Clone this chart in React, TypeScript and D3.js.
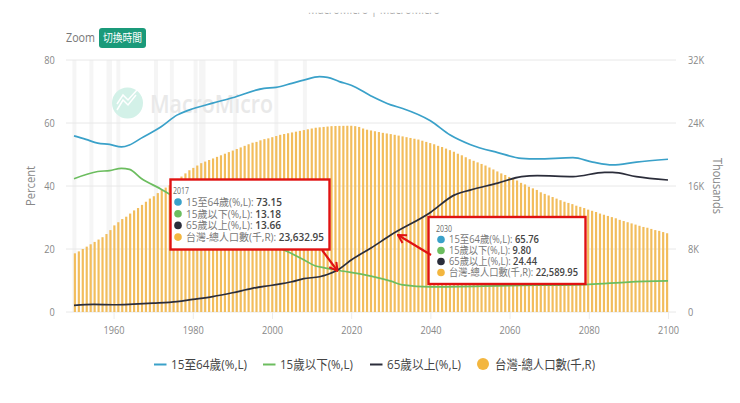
import * as d3 from 'd3'
import { useEffect, useRef } from 'react'

const width = 740
const height = 403

const FONT = '"Open Sans", "Noto Sans CJK TC", sans-serif'

const workingYears = [1950, 1953, 1956, 1959, 1962, 1964, 1967, 1972, 1976, 1979, 1985, 1990, 1998, 2001, 2005, 2008, 2012, 2014, 2017, 2020, 2025, 2030, 2033, 2040, 2045, 2050, 2057, 2063, 2067, 2076, 2081, 2086, 2092, 2100]
const workingAge = [55.9, 54.8, 53.6, 53.2, 52.4, 53.0, 55.2, 58.8, 62.5, 64.1, 66.3, 68.0, 71.0, 71.3, 72.6, 73.6, 74.7, 74.5, 73.15, 72.0, 68.6, 65.76, 64.6, 60.7, 56.2, 53.2, 50.6, 48.8, 48.6, 49.0, 47.6, 46.7, 47.6, 48.5]

const youthYears = [1950, 1956, 1959, 1962, 1964, 1967, 1972, 1976, 1980, 1985, 1990, 1995, 2000, 2004, 2008, 2011, 2013, 2017, 2025, 2030, 2033, 2040, 2060, 2080, 2090, 2100]
const youth = [42.3, 44.6, 44.9, 45.6, 45.3, 42.4, 39.0, 36.0, 32.5, 29.6, 27.0, 23.7, 21.3, 19.1, 16.6, 14.6, 14.1, 13.18, 11.4, 9.8, 8.6, 8.0, 8.4, 8.8, 9.5, 9.85]

const elderlyYears = [1950, 1955, 1960, 1965, 1970, 1976, 1980, 1985, 1990, 1995, 2000, 2005, 2008, 2012, 2014, 2017, 2020, 2025, 2030, 2040, 2046, 2050, 2057, 2063, 2067, 2076, 2084, 2086, 2092, 2100]
const elderly = [2.1, 2.4, 2.3, 2.5, 2.8, 3.3, 4.0, 4.9, 6.1, 7.5, 8.5, 9.6, 10.6, 11.2, 11.9, 13.66, 16.5, 20.3, 24.44, 31.6, 37.1, 38.7, 40.9, 43.0, 43.3, 43.0, 44.3, 44.3, 43.0, 41.9]

// Thousands of people, one value a year from 1950 to 2100
const populationStart = 1950
const population = [
  7450, 7700, 8000, 8300, 8600, 8900, 9200, 9500, 9900, 10400,
  11000, 11400, 11800, 12100, 12500, 12900, 13200, 13600, 14000, 14400,
  14700, 15100, 15500, 15800, 16100, 16500, 16900, 17200, 17600, 18000,
  18300, 18600, 18900, 19100, 19300, 19500, 19700, 19900, 20100, 20300,
  20500, 20700, 20900, 21100, 21300, 21500, 21600, 21800, 21950, 22050,
  22200, 22350, 22500, 22600, 22700, 22800, 22900, 23000, 23100, 23200,
  23300, 23400, 23450, 23500, 23550, 23600, 23620, 23633, 23640, 23650,
  23650, 23600, 23500, 23300, 23150, 23050, 22950, 22850, 22750, 22670,
  22590, 22500, 22400, 22300, 22200, 22100, 22000, 21900, 21750, 21600,
  21450, 21300, 21100, 20950, 20750, 20550, 20350, 20100, 19900, 19650,
  19400, 19200, 19000, 18800, 18600, 18350, 18100, 17850, 17600, 17400,
  17150, 16900, 16700, 16400, 16200, 15900, 15700, 15500, 15200, 15000,
  14800, 14600, 14400, 14200, 14000, 13850, 13700, 13500, 13350, 13200,
  13000, 12850, 12700, 12500, 12350, 12200, 12050, 11900, 11700, 11550,
  11400, 11250, 11100, 10950, 10800, 10700, 10550, 10400, 10300, 10150,
  10000,
]

// Recession shading, start and end year
const bandStarts = [1949.6, 1953.9, 1958.2, 1960.7, 1970.2, 1974.2, 1980.2, 1981.6, 1990.2, 2000.6, 2007.8]
const bandEnds = [1950.6, 1954.9, 1959.6, 1961.7, 1971.2, 1975.2, 1981.2, 1983.2, 1991.2, 2001.6, 2008.8]

const leftTicks = [0, 20, 40, 60, 80]
const rightTicks = [0, 8000, 16000, 24000, 32000]
const xTicks = [1960, 1980, 2000, 2020, 2040, 2060, 2080, 2100]

const seriesNames = ['15至64歲(%,L)', '15歲以下(%,L)', '65歲以上(%,L)', '台灣-總人口數(千,R)']
const seriesColors = ['#3aa1c9', '#6cbd5f', '#2b2d3a', '#f3b63f']
const tooltip2017 = ['73.15', '13.18', '13.66', '23,632.95']
const tooltip2030 = ['65.76', '9.80', '24.44', '22,589.95']

export default function App() {
  const svgRef = useRef<SVGSVGElement>(null)

  useEffect(() => {
    if (!svgRef.current) return
    d3.select(svgRef.current).selectAll('*').remove()

    const svg = d3.select(svgRef.current).style('font-family', FONT)

    const x = d3.scaleLinear().domain([1950, 2100]).range([74, 668])
    const yLeft = d3.scaleLinear().domain([0, 80]).range([312, 60])
    const yRight = d3.scaleLinear().domain([0, 32000]).range([312, 60])
    const years = population.map((_, i) => populationStart + i)
    const xBand = d3
      .scaleBand<number>()
      .domain(years)
      .range([x(1950) - 1.98, x(2100) + 1.98])
      .padding(0.45)

    const defs = svg.append('defs')
    defs
      .append('clipPath')
      .attr('id', 'top-crop')
      .append('rect')
      .attr('x', 280)
      .attr('y', 12.8)
      .attr('width', 200)
      .attr('height', 6)
    defs
      .append('marker')
      .attr('id', 'arrow')
      .attr('viewBox', '0 0 10 10')
      .attr('refX', 9)
      .attr('refY', 5)
      .attr('markerWidth', 4.5)
      .attr('markerHeight', 5)
      .attr('markerUnits', 'strokeWidth')
      .attr('orient', 'auto')
      .append('path')
      .attr('d', 'M1,0.5 L9,5 L1,9.5')
      .attr('fill', 'none')
      .attr('stroke', '#e01212')
      .attr('stroke-width', 2)

    // The whole picture is squeezed sideways, so text gets fitted to a measured width
    const fit = (
      sel: d3.Selection<SVGTextElement, unknown, null, undefined>,
      w: number
    ) => sel.attr('textLength', w).attr('lengthAdjust', 'spacingAndGlyphs')

    // Header text, cut off by the screenshot
    svg
      .append('text')
      .attr('x', 308)
      .attr('y', 14.3)
      .attr('clip-path', 'url(#top-crop)')
      .style('font-size', '12px')
      .style('fill', '#aaa')
      .text('MacroMicro | MacroMicro')
      .call(fit, 132)

    // Zoom label and button
    svg
      .append('text')
      .attr('x', 66)
      .attr('y', 42)
      .style('font-size', '12.5px')
      .style('fill', '#777')
      .text('Zoom')
      .call(fit, 29)
    svg
      .append('rect')
      .attr('x', 99)
      .attr('y', 28)
      .attr('width', 47)
      .attr('height', 20)
      .attr('rx', 3)
      .attr('fill', '#1a9a7a')
    svg
      .append('text')
      .attr('x', 103)
      .attr('y', 42)
      .style('font-size', '11.5px')
      .style('fill', '#fff')
      .text('切換時間')
      .call(fit, 39)

    // Recession bands
    svg
      .append('g')
      .selectAll('rect')
      .data(bandStarts)
      .enter()
      .append('rect')
      .attr('x', d => x(d))
      .attr('y', 60)
      .attr('width', (d, i) => x(bandEnds[i]) - x(d))
      .attr('height', 252)
      .attr('fill', '#f5f5f5')

    // Grid
    svg
      .append('g')
      .selectAll('line')
      .data(leftTicks)
      .enter()
      .append('line')
      .attr('x1', 66)
      .attr('x2', 676)
      .attr('y1', d => yLeft(d))
      .attr('y2', d => yLeft(d))
      .attr('stroke', '#e8e8e8')

    // Watermark
    const mark = svg.append('g')
    mark
      .append('circle')
      .attr('cx', 127.5)
      .attr('cy', 103)
      .attr('r', 15.5)
      .attr('fill', '#d3f1e8')
    mark
      .append('path')
      .attr('d', 'M117,110 L123,100 L128,105 L136,95 M117,104 L123,95 L128,100 L137,90')
      .attr('fill', 'none')
      .attr('stroke', '#fff')
      .attr('stroke-width', 1.5)
    mark
      .append('text')
      .attr('x', 150)
      .attr('y', 113)
      .style('font-size', '25px')
      .style('font-weight', 600)
      .style('fill', '#e9e9e9')
      .text('MacroMicro')
      .call(fit, 123)

    // Population bars
    svg
      .append('g')
      .selectAll('rect')
      .data(population)
      .enter()
      .append('rect')
      .attr('x', (_, i) => xBand(years[i])!)
      .attr('y', d => yRight(d))
      .attr('width', xBand.bandwidth())
      .attr('height', d => 312 - yRight(d))
      .attr('fill', '#f2bd5c')

    // Axes
    const styleAxis = (g: d3.Selection<SVGGElement, unknown, null, undefined>) => {
      g.select('.domain').remove()
      g.selectAll('text')
        .style('font-size', '11.5px')
        .style('fill', '#888')
        .style('font-family', FONT)
        .attr('transform', 'scale(0.8,1)')
      g.selectAll('line').attr('stroke', '#ececec')
    }

    svg
      .append('g')
      .attr('transform', 'translate(0,312)')
      .call(d3.axisBottom(x).tickValues(xTicks).tickFormat(d3.format('d')).tickSize(7).tickPadding(7))
      .call(styleAxis)
    svg
      .append('g')
      .attr('transform', 'translate(58,0)')
      .call(d3.axisLeft(yLeft).tickValues(leftTicks).tickSize(0).tickPadding(4))
      .call(styleAxis)
    svg
      .append('g')
      .attr('transform', 'translate(684,0)')
      .call(
        d3
          .axisRight(yRight)
          .tickValues(rightTicks)
          .tickFormat(d => (+d === 0 ? '0' : `${+d / 1000}K`))
          .tickSize(0)
          .tickPadding(5)
      )
      .call(styleAxis)

    svg
      .append('text')
      .attr('transform', 'translate(35,186) rotate(-90)')
      .attr('text-anchor', 'middle')
      .style('font-size', '12px')
      .style('fill', '#888')
      .text('Percent')
      .call(fit, 40)
    svg
      .append('text')
      .attr('transform', 'translate(713,186) rotate(90)')
      .attr('text-anchor', 'middle')
      .style('font-size', '12px')
      .style('fill', '#888')
      .text('Thousands')
      .call(fit, 56)

    // Lines
    const drawLine = (xs: number[], ys: number[], color: string) => {
      const line = d3
        .line<number>()
        .x((_, i) => x(xs[i]))
        .y(d => yLeft(d))
        .curve(d3.curveMonotoneX)
      svg
        .append('path')
        .attr('d', line(ys))
        .attr('fill', 'none')
        .attr('stroke', color)
        .attr('stroke-width', 1.7)
    }
    drawLine(workingYears, workingAge, seriesColors[0])
    drawLine(youthYears, youth, seriesColors[1])
    drawLine(elderlyYears, elderly, seriesColors[2])

    // Red callout boxes
    const drawCallout = (
      box: { x: number; y: number; w: number; h: number },
      year: string,
      values: string[],
      rowWidths: number[],
      dotX: number,
      yearY: number,
      rowY: number,
      rowStep: number
    ) => {
      const g = svg.append('g')
      g.append('rect')
        .attr('x', box.x)
        .attr('y', box.y)
        .attr('width', box.w)
        .attr('height', box.h)
        .attr('fill', '#fff')
        .attr('stroke', '#e01212')
        .attr('stroke-width', 2.4)
      g.append('text')
        .attr('x', dotX - 5)
        .attr('y', yearY)
        .style('font-size', '9px')
        .style('fill', '#666')
        .text(year)
        .call(fit, 16)
      values.forEach((v, i) => {
        const y = rowY + i * rowStep
        g.append('circle').attr('cx', dotX).attr('cy', y).attr('r', 3.8).attr('fill', seriesColors[i])
        const t = g
          .append('text')
          .attr('x', dotX + 8)
          .attr('y', y + 3.8)
          .style('font-size', '10.6px')
          .style('fill', '#777')
          .text(`${seriesNames[i]}: `)
          .call(fit, rowWidths[i])
        t.append('tspan').style('fill', '#444').style('font-weight', 600).text(v)
      })
    }
    drawCallout({ x: 170.5, y: 179.5, w: 159, h: 70 }, '2017', tooltip2017, [96, 95, 95, 138], 178, 194, 202, 11.7)
    drawCallout({ x: 428.5, y: 217, w: 157, h: 67 }, '2030', tooltip2030, [90, 82, 88, 129], 441, 232, 239.5, 11)

    svg
      .append('line')
      .attr('x1', 322)
      .attr('y1', 250)
      .attr('x2', 337.5)
      .attr('y2', 271)
      .attr('stroke', '#e01212')
      .attr('stroke-width', 2.2)
      .attr('marker-end', 'url(#arrow)')
    svg
      .append('line')
      .attr('x1', 431)
      .attr('y1', 255)
      .attr('x2', 398)
      .attr('y2', 235)
      .attr('stroke', '#e01212')
      .attr('stroke-width', 2.2)
      .attr('marker-end', 'url(#arrow)')

    // Legend
    const legendX = [154, 263, 370, 477]
    const legendWidths = [76, 73, 74, 100]
    seriesNames.forEach((name, i) => {
      const lx = legendX[i]
      if (i < 3) {
        svg
          .append('line')
          .attr('x1', lx)
          .attr('x2', lx + 12.5)
          .attr('y1', 364.5)
          .attr('y2', 364.5)
          .attr('stroke', seriesColors[i])
          .attr('stroke-width', 2)
      } else {
        svg.append('circle').attr('cx', 483).attr('cy', 364).attr('r', 6).attr('fill', seriesColors[i])
      }
      svg
        .append('text')
        .attr('x', i < 3 ? lx + 17 : 495)
        .attr('y', 369)
        .style('font-size', '12.6px')
        .style('fill', '#444')
        .text(name)
        .call(fit, legendWidths[i])
    })
  }, [])

  return (
    <svg
      ref={svgRef}
      width={width}
      height={height}
      style={{ position: 'absolute', left: 0, top: 0, background: '#fff' }}
    />
  )
}
